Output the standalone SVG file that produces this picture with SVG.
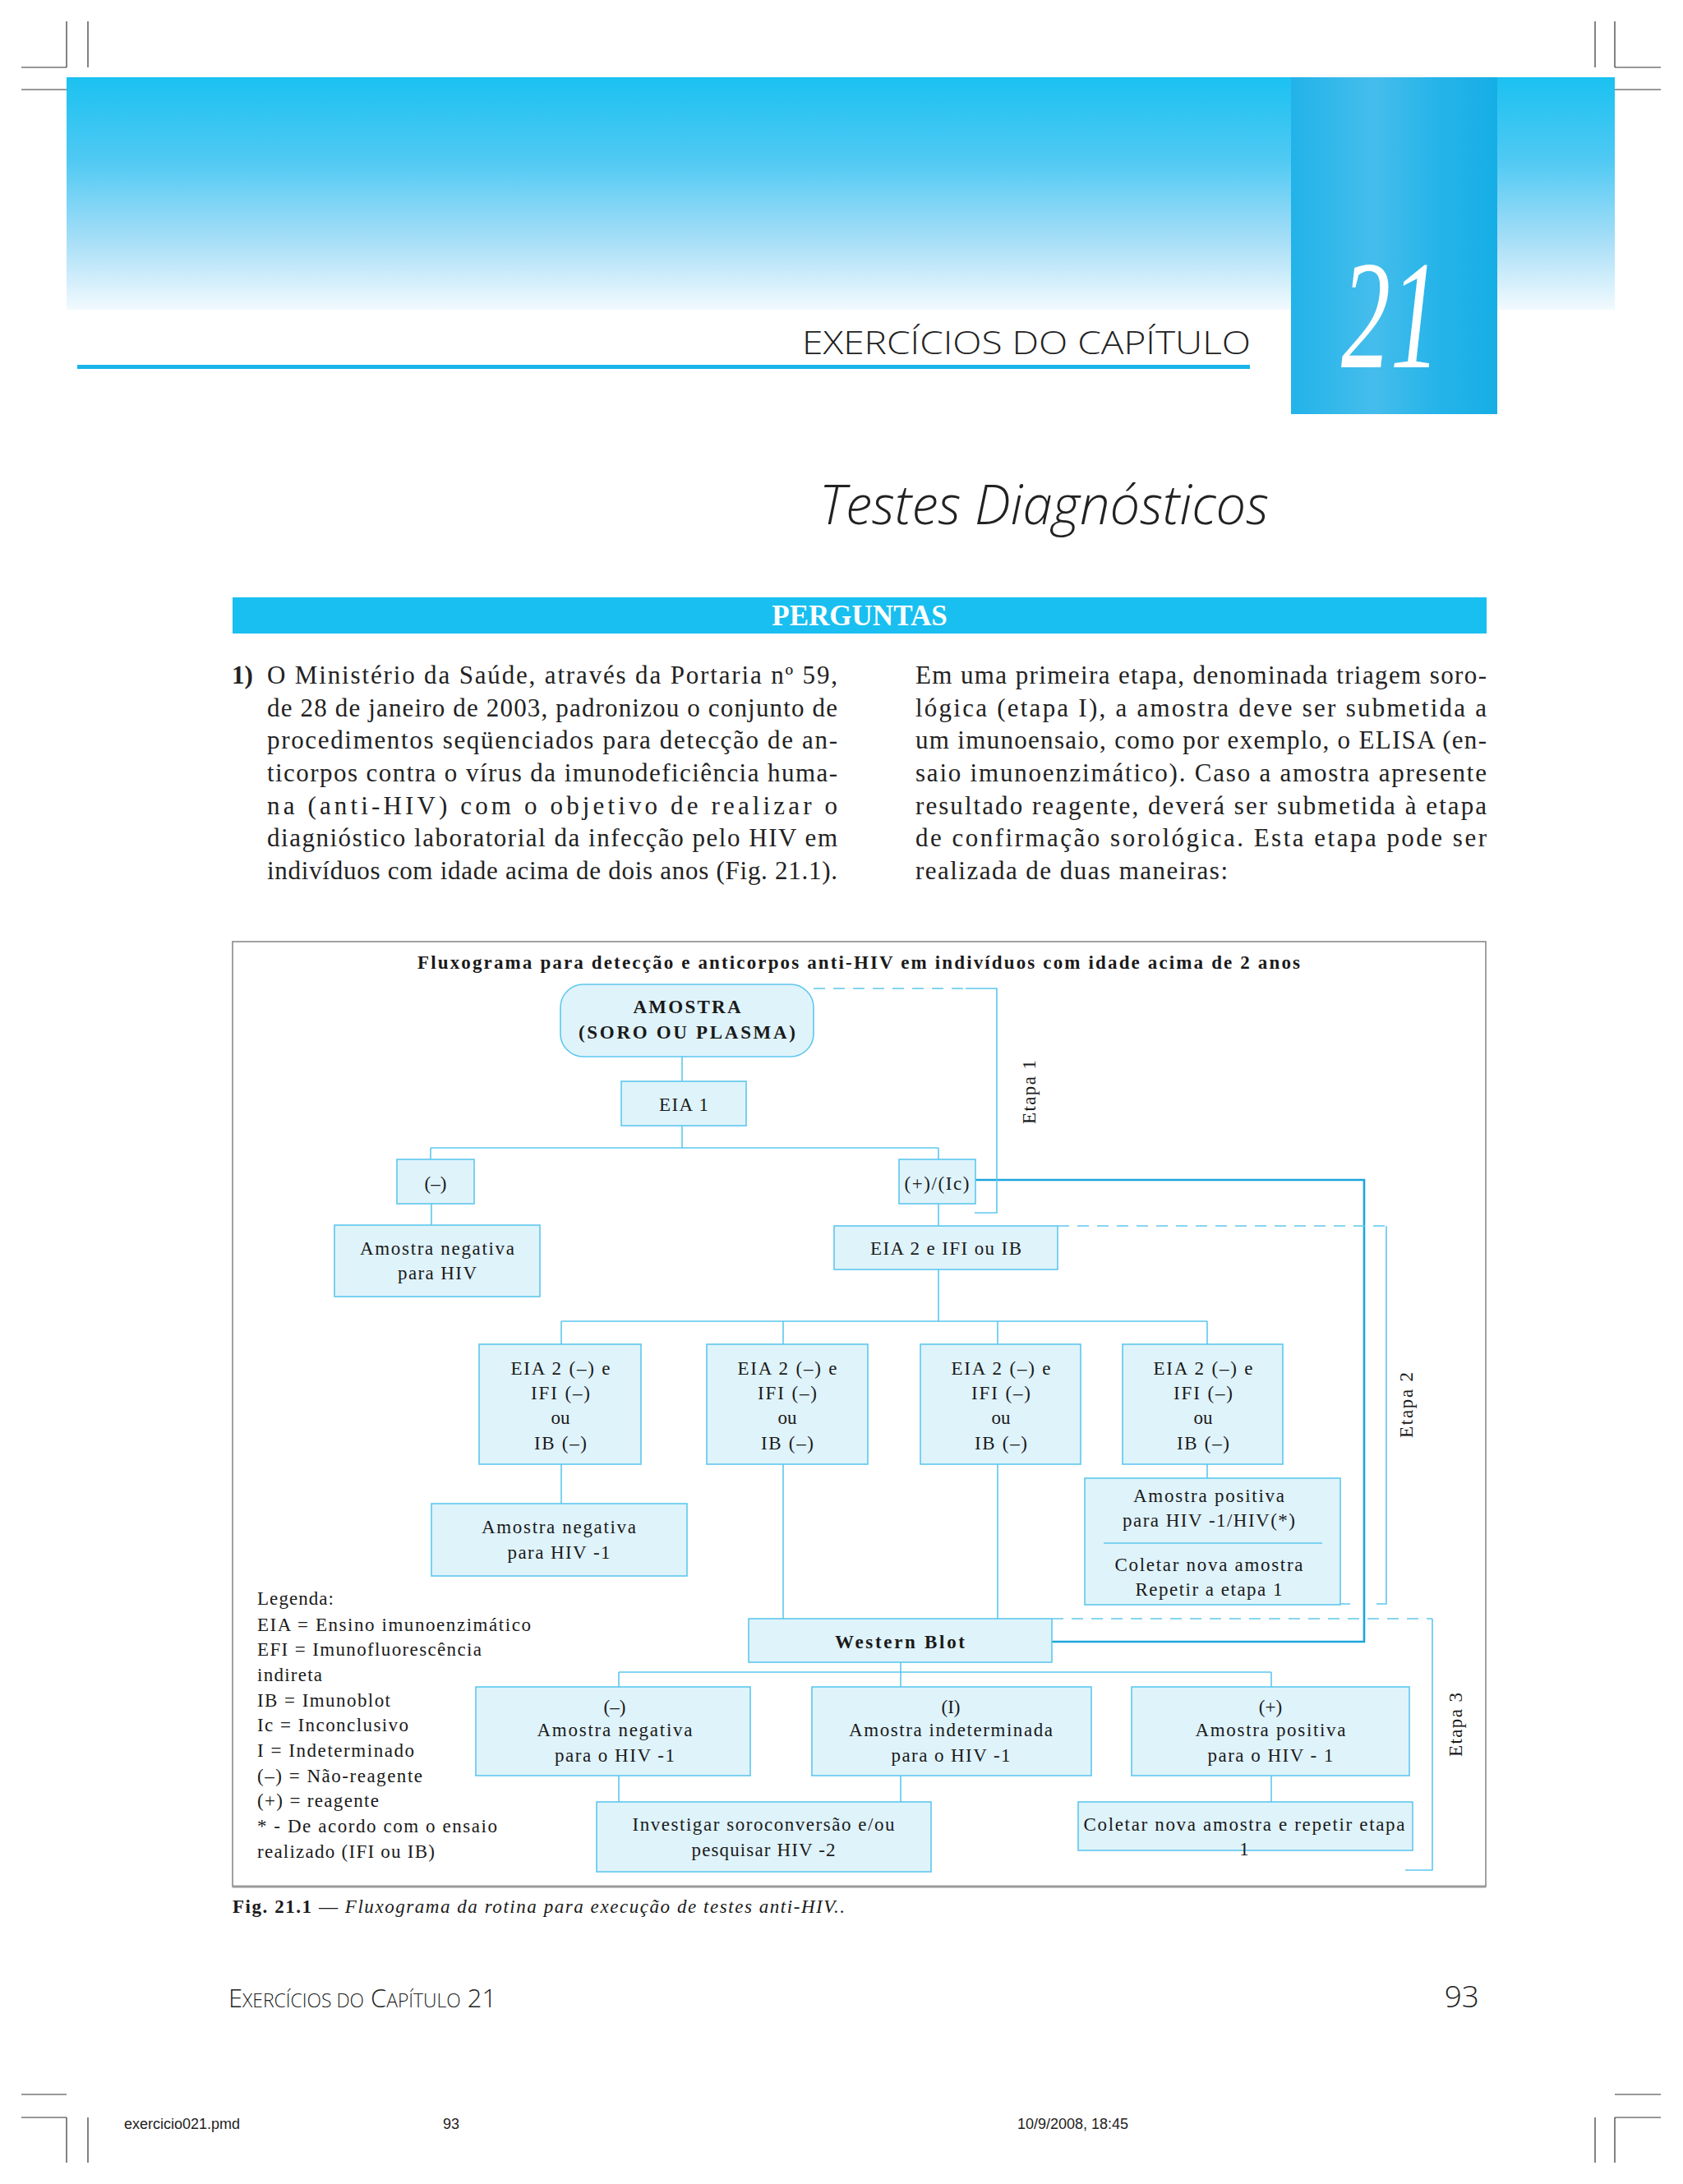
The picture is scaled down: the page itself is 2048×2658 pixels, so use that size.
<svg xmlns="http://www.w3.org/2000/svg" width="2048" height="2658" viewBox="0 0 2048 2658">
<defs>
<linearGradient id="band" x1="0" y1="0" x2="0" y2="1">
<stop offset="0" stop-color="#1bc1f1"/>
<stop offset="0.35" stop-color="#4ec9f3"/>
<stop offset="0.7" stop-color="#a6def7"/>
<stop offset="1" stop-color="#f2fafe"/>
</linearGradient>
<linearGradient id="col" x1="0" y1="0" x2="1" y2="0">
<stop offset="0" stop-color="#22b3e9"/>
<stop offset="0.4" stop-color="#45bdec"/>
<stop offset="0.7" stop-color="#26b4e9"/>
<stop offset="1" stop-color="#16aee6"/>
</linearGradient>
<style>
.box{fill:#dff3fb;stroke:#5ec7ee;stroke-width:1.6}
.ln{stroke:#5ec7ee;stroke-width:1.6;fill:none}
.dash{stroke-dasharray:14 10}
.thick{stroke:#1ca5dc;stroke-width:2.6;fill:none}
.t{font-family:"Liberation Serif","Times New Roman",serif;font-size:23px;fill:#1a1a1a;text-anchor:middle}
.b{font-weight:bold}
.lg{font-family:"Liberation Serif","Times New Roman",serif;font-size:23px;fill:#1a1a1a}
.p{font-family:"Liberation Serif","Times New Roman",serif;font-size:31px;fill:#222}
.mk{stroke:#333;stroke-width:1.2;fill:none}
</style>
</defs>
<rect width="2048" height="2658" fill="#ffffff"/>

<!-- crop marks -->
<g id="marks">
<path class="mk" d="M81 26V82M107 26V82M26 82H81M26 109H81"/>
<path class="mk" d="M1941 26V82M1965 26V82M1965 82H2021M1965 109H2021"/>
<path class="mk" d="M26 2549H81M1965 2549H2021M26 2577H81M81 2577V2632M107 2577V2632M1965 2577H2021M1965 2577V2632M1941 2577V2632"/>
</g>

<!-- header -->
<g id="header">
<rect x="81" y="94" width="1884" height="283" fill="url(#band)"/>
<rect x="1571" y="94" width="251" height="410" fill="url(#col)"/>
<text x="1632" y="447" font-family="Liberation Serif, serif" font-style="italic" font-size="188" fill="#ffffff" textLength="120" lengthAdjust="spacingAndGlyphs">21</text>
<text x="976" y="431" font-family="Open Sans, sans-serif" font-weight="300" font-size="39" fill="#222" textLength="546" lengthAdjust="spacingAndGlyphs">EXERCÍCIOS DO CAPÍTULO</text>
<rect x="94" y="444" width="1427" height="5" fill="#1bb4ea"/>
<text x="997" y="638" font-family="Open Sans, sans-serif" font-style="italic" font-weight="300" font-size="66" fill="#222" textLength="547" lengthAdjust="spacingAndGlyphs">Testes Diagnósticos</text>
</g>

<!-- perguntas bar -->
<g id="perguntas">
<rect x="283" y="727" width="1526" height="44" fill="#19bff0"/>
<text x="1046" y="761" font-family="Liberation Serif, serif" font-weight="bold" font-size="35" fill="#ffffff" text-anchor="middle">PERGUNTAS</text>
</g>

<!-- paragraph -->
<g id="paragraph">
<text class="p" x="282" y="832" font-weight="bold">1)</text>
<text class="p" x="325" y="832" textLength="694" lengthAdjust="spacing">O Ministério da Saúde, através da Portaria nº 59,</text>
<text class="p" x="325" y="872" textLength="694" lengthAdjust="spacing">de 28 de janeiro de 2003, padronizou o conjunto de</text>
<text class="p" x="325" y="911" textLength="694" lengthAdjust="spacing">procedimentos seqüenciados para detecção de an-</text>
<text class="p" x="325" y="951" textLength="694" lengthAdjust="spacing">ticorpos contra o vírus da imunodeficiência huma-</text>
<text class="p" x="325" y="991" textLength="694" lengthAdjust="spacing">na (anti-HIV) com o objetivo de realizar o</text>
<text class="p" x="325" y="1030" textLength="694" lengthAdjust="spacing">diagnióstico laboratorial da infecção pelo HIV em</text>
<text class="p" x="325" y="1070" textLength="694" lengthAdjust="spacing">indivíduos com idade acima de dois anos (Fig. 21.1).</text>
<text class="p" x="1114" y="832" textLength="695" lengthAdjust="spacing">Em uma primeira etapa, denominada triagem soro-</text>
<text class="p" x="1114" y="872" textLength="695" lengthAdjust="spacing">lógica (etapa I), a amostra deve ser submetida a</text>
<text class="p" x="1114" y="911" textLength="695" lengthAdjust="spacing">um imunoensaio, como por exemplo, o ELISA (en-</text>
<text class="p" x="1114" y="951" textLength="695" lengthAdjust="spacing">saio imunoenzimático). Caso a amostra apresente</text>
<text class="p" x="1114" y="991" textLength="695" lengthAdjust="spacing">resultado reagente, deverá ser submetida à etapa</text>
<text class="p" x="1114" y="1030" textLength="695" lengthAdjust="spacing">de confirmação sorológica. Esta etapa pode ser</text>
<text class="p" x="1114" y="1070" textLength="380" lengthAdjust="spacing">realizada de duas maneiras:</text>
</g>

<!-- figure frame -->
<g id="frame">
<rect x="283" y="1146" width="1525" height="1150" fill="#ffffff" stroke="#8a8a8a" stroke-width="1.6"/>
<line x1="283" y1="2296" x2="1808" y2="2296" stroke="#9a9a9a" stroke-width="3"/>
<text class="t b" x="1045" y="1179" textLength="1074" lengthAdjust="spacing">Fluxograma para detecção e anticorpos anti-HIV em indivíduos com idade acima de 2 anos</text>
</g>

<!-- connectors -->
<g id="connectors">
<path class="ln" d="M830 1286V1316M830 1370V1397M524 1397H1142M524 1397V1411M1142 1397V1411"/>
<path class="ln" d="M525 1465V1491M1142 1465V1492"/>
<path class="ln" d="M1142 1545V1608M683 1608H1469M683 1608V1636M953 1608V1636M1214 1608V1636M1469 1608V1636"/>
<path class="ln" d="M683 1782V1830M953 1782V1970M1214 1782V1970M1469 1782V1799"/>
<path class="ln" d="M1096 2023V2035M753 2035H1547M753 2035V2053M1096 2035V2053M1547 2035V2053"/>
<path class="ln" d="M753 2161V2193M1096 2161V2193M1547 2161V2193"/>
<path class="thick" d="M1187 1436H1660V1998H1280"/>
<!-- etapa brackets -->
<path class="ln dash" d="M990 1203H1175"/>
<path class="ln" d="M1175 1203H1213V1476H1186"/>
<path class="ln dash" d="M1287 1492H1687"/>
<path class="ln" d="M1687 1492V1952H1675M1643 1952H1631"/>
<path class="ln dash" d="M1280 1970H1743"/>
<path class="ln" d="M1743 1970V2276H1710"/>
</g>

<g id="etapas">
<text class="t" transform="translate(1260 1329) rotate(-90)" textLength="78" lengthAdjust="spacing">Etapa 1</text>
<text class="t" transform="translate(1719 1710) rotate(-90)" textLength="80" lengthAdjust="spacing">Etapa 2</text>
<text class="t" transform="translate(1779 2099) rotate(-90)" textLength="78" lengthAdjust="spacing">Etapa 3</text>
</g>

<!-- nodes -->
<g id="amostra">
<rect class="box" x="682" y="1198" width="308" height="88" rx="28" ry="28"/>
<text class="t b" x="836" y="1233" textLength="131" lengthAdjust="spacing">AMOSTRA</text>
<text class="t b" x="836" y="1264" textLength="264" lengthAdjust="spacing">(SORO OU PLASMA)</text>
</g>
<g id="eia1">
<rect class="box" x="756" y="1316" width="152" height="54"/>
<text class="t" x="832" y="1352" textLength="60" lengthAdjust="spacing">EIA 1</text>
</g>
<g id="neg1">
<rect class="box" x="483" y="1411" width="94" height="54"/>
<text class="t" x="530" y="1448">(–)</text>
</g>
<g id="posic">
<rect class="box" x="1094" y="1411" width="93" height="54"/>
<text class="t" x="1140" y="1448" textLength="79" lengthAdjust="spacing">(+)/(Ic)</text>
</g>
<g id="negHIV">
<rect class="box" x="407" y="1491" width="250" height="87"/>
<text class="t" x="532" y="1527" textLength="188" lengthAdjust="spacing">Amostra negativa</text>
<text class="t" x="532" y="1557" textLength="96" lengthAdjust="spacing">para HIV</text>
</g>
<g id="eia2">
<rect class="box" x="1015" y="1492" width="272" height="53"/>
<text class="t" x="1151" y="1527" textLength="184" lengthAdjust="spacing">EIA 2 e IFI ou IB</text>
</g>
<g id="resA">
<rect class="box" x="583" y="1636" width="197" height="146"/>
<text class="t" x="682" y="1673" textLength="121" lengthAdjust="spacing">EIA 2 (–) e</text>
<text class="t" x="682" y="1703" textLength="72" lengthAdjust="spacing">IFI (–)</text>
<text class="t" x="682" y="1733">ou</text>
<text class="t" x="682" y="1764" textLength="64" lengthAdjust="spacing">IB (–)</text>
</g>
<g id="resB">
<rect class="box" x="860" y="1636" width="196" height="146"/>
<text class="t" x="958" y="1673" textLength="121" lengthAdjust="spacing">EIA 2 (–) e</text>
<text class="t" x="958" y="1703" textLength="72" lengthAdjust="spacing">IFI (–)</text>
<text class="t" x="958" y="1733">ou</text>
<text class="t" x="958" y="1764" textLength="64" lengthAdjust="spacing">IB (–)</text>
</g>
<g id="resC">
<rect class="box" x="1120" y="1636" width="195" height="146"/>
<text class="t" x="1218" y="1673" textLength="121" lengthAdjust="spacing">EIA 2 (–) e</text>
<text class="t" x="1218" y="1703" textLength="72" lengthAdjust="spacing">IFI (–)</text>
<text class="t" x="1218" y="1733">ou</text>
<text class="t" x="1218" y="1764" textLength="64" lengthAdjust="spacing">IB (–)</text>
</g>
<g id="resD">
<rect class="box" x="1366" y="1636" width="195" height="146"/>
<text class="t" x="1464" y="1673" textLength="121" lengthAdjust="spacing">EIA 2 (–) e</text>
<text class="t" x="1464" y="1703" textLength="72" lengthAdjust="spacing">IFI (–)</text>
<text class="t" x="1464" y="1733">ou</text>
<text class="t" x="1464" y="1764" textLength="64" lengthAdjust="spacing">IB (–)</text>
</g>
<g id="negHIV1">
<rect class="box" x="525" y="1830" width="311" height="88"/>
<text class="t" x="680" y="1866" textLength="188" lengthAdjust="spacing">Amostra negativa</text>
<text class="t" x="680" y="1897" textLength="125" lengthAdjust="spacing">para HIV -1</text>
</g>
<g id="posHIV">
<rect class="box" x="1320" y="1799" width="311" height="154"/>
<text class="t" x="1471" y="1828" textLength="184" lengthAdjust="spacing">Amostra positiva</text>
<text class="t" x="1471" y="1858" textLength="210" lengthAdjust="spacing">para HIV -1/HIV(*)</text>
<line class="ln" x1="1343" y1="1878" x2="1609" y2="1878"/>
<text class="t" x="1471" y="1912" textLength="229" lengthAdjust="spacing">Coletar nova amostra</text>
<text class="t" x="1471" y="1942" textLength="179" lengthAdjust="spacing">Repetir a etapa 1</text>
</g>
<g id="wb">
<rect class="box" x="911" y="1970" width="369" height="53"/>
<text class="t b" x="1095" y="2006" textLength="158" lengthAdjust="spacing">Western Blot</text>
</g>
<g id="wbNeg">
<rect class="box" x="579" y="2053" width="334" height="108"/>
<text class="t" x="748" y="2085">(–)</text>
<text class="t" x="748" y="2113" textLength="189" lengthAdjust="spacing">Amostra negativa</text>
<text class="t" x="748" y="2144" textLength="146" lengthAdjust="spacing">para o HIV -1</text>
</g>
<g id="wbInd">
<rect class="box" x="988" y="2053" width="340" height="108"/>
<text class="t" x="1157" y="2085">(I)</text>
<text class="t" x="1157" y="2113" textLength="248" lengthAdjust="spacing">Amostra indeterminada</text>
<text class="t" x="1157" y="2144" textLength="145" lengthAdjust="spacing">para o HIV -1</text>
</g>
<g id="wbPos">
<rect class="box" x="1377" y="2053" width="338" height="108"/>
<text class="t" x="1546" y="2085">(+)</text>
<text class="t" x="1546" y="2113" textLength="183" lengthAdjust="spacing">Amostra positiva</text>
<text class="t" x="1546" y="2144" textLength="153" lengthAdjust="spacing">para o HIV - 1</text>
</g>
<g id="investigar">
<rect class="box" x="726" y="2193" width="407" height="85"/>
<text class="t" x="929" y="2228" textLength="319" lengthAdjust="spacing">Investigar soroconversão e/ou</text>
<text class="t" x="929" y="2259" textLength="175" lengthAdjust="spacing">pesquisar HIV -2</text>
</g>
<g id="coletar">
<rect class="box" x="1312" y="2193" width="407" height="59"/>
<text class="t" x="1514" y="2228" textLength="391" lengthAdjust="spacing">Coletar nova amostra e repetir etapa</text>
<text class="t" x="1514" y="2258">1</text>
</g>

<g id="legenda">
<text class="lg" x="313" y="1953" textLength="93" lengthAdjust="spacing">Legenda:</text>
<text class="lg" x="313" y="1985" textLength="333" lengthAdjust="spacing">EIA = Ensino imunoenzimático</text>
<text class="lg" x="313" y="2015" textLength="273" lengthAdjust="spacing">EFI = Imunofluorescência</text>
<text class="lg" x="313" y="2046" textLength="79" lengthAdjust="spacing">indireta</text>
<text class="lg" x="313" y="2077" textLength="162" lengthAdjust="spacing">IB = Imunoblot</text>
<text class="lg" x="313" y="2107" textLength="184" lengthAdjust="spacing">Ic = Inconclusivo</text>
<text class="lg" x="313" y="2138" textLength="191" lengthAdjust="spacing">I = Indeterminado</text>
<text class="lg" x="313" y="2169" textLength="201" lengthAdjust="spacing">(–) = Não-reagente</text>
<text class="lg" x="313" y="2199" textLength="148" lengthAdjust="spacing">(+) = reagente</text>
<text class="lg" x="313" y="2230" textLength="292" lengthAdjust="spacing">* - De acordo com o ensaio</text>
<text class="lg" x="313" y="2261" textLength="216" lengthAdjust="spacing">realizado (IFI ou IB)</text>
</g>

<g id="caption">
<text class="lg" x="283" y="2328" textLength="745" lengthAdjust="spacing"><tspan font-weight="bold">Fig. 21.1</tspan> — <tspan font-style="italic">Fluxograma da rotina para execução de testes anti-HIV..</tspan></text>
</g>

<g id="footer">
<text x="278" y="2443" font-family="Open Sans, sans-serif" font-weight="300" font-size="31" fill="#222" textLength="326" lengthAdjust="spacingAndGlyphs">E<tspan font-size="23">XERCÍCIOS DO</tspan> C<tspan font-size="23">APÍTULO</tspan> 21</text>
<text x="1800" y="2443" font-family="Open Sans, sans-serif" font-weight="300" font-size="37" fill="#222" text-anchor="end">93</text>
<text x="151" y="2591" font-family="Liberation Sans, Arial, sans-serif" font-size="18" fill="#222">exercicio021.pmd</text>
<text x="539" y="2591" font-family="Liberation Sans, Arial, sans-serif" font-size="18" fill="#222">93</text>
<text x="1238" y="2591" font-family="Liberation Sans, Arial, sans-serif" font-size="18" fill="#222">10/9/2008, 18:45</text>
</g>
</svg>
